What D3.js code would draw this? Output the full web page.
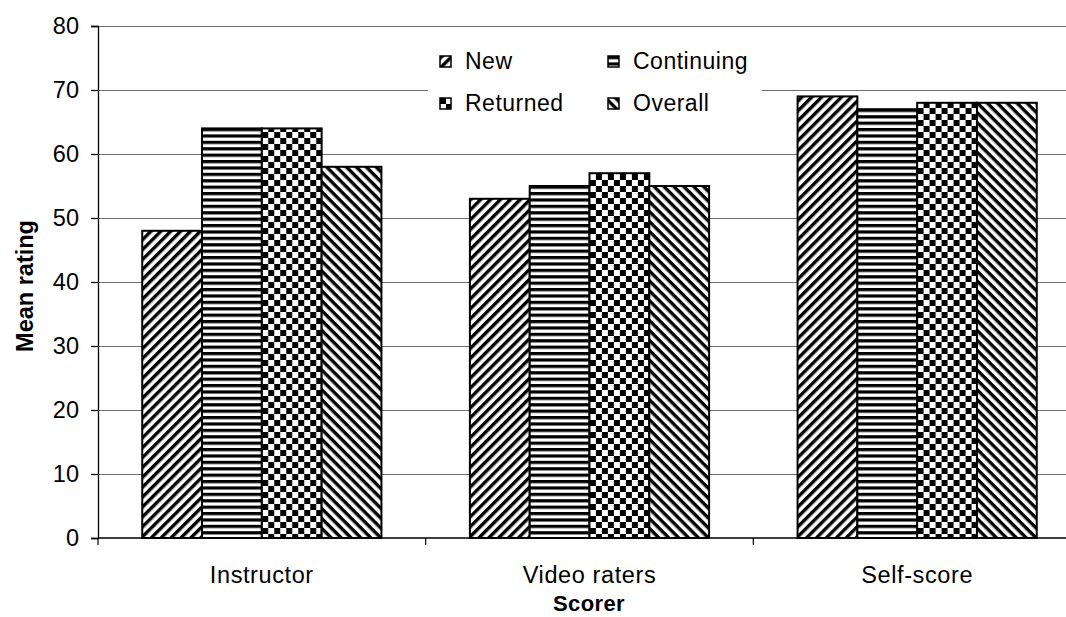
<!DOCTYPE html>
<html>
<head>
<meta charset="utf-8">
<script src="https://cdn.jsdelivr.net/npm/d3@7"></script>
<style>
  body { margin: 0; background: #fff; }
  svg { font-family: "Liberation Sans", Arial, sans-serif; display: block; }
  .tick text { font-size: 23.5px; fill: #000; }
</style>
</head>
<body>
<div id="chart"></div>
<script>
// data
const categories = ['Instructor', 'Video raters', 'Self-score'];
const seriesNames = ['New', 'Continuing', 'Returned', 'Overall'];
const newVals = [48, 53, 69];
const continuingVals = [64, 55, 67];
const returnedVals = [64, 57, 68];
const overallVals = [58, 55, 68];
const yTicks = [0, 10, 20, 30, 40, 50, 60, 70, 80];

const seriesVals = [newVals, continuingVals, returnedVals, overallVals];
const patternIds = ['pNew', 'pCont', 'pRet', 'pOver'];

const width = 1066, height = 617;
const margin = {top: 26, left: 98, bottom: 79};
// plot runs off the right edge in the reference
const plotRight = 1081;

const svg = d3.select('#chart').append('svg')
    .attr('width', width)
    .attr('height', height);

// fill patterns
const defs = svg.append('defs');
function stripes(id, angle) {
    const p = defs.append('pattern')
        .attr('id', id)
        .attr('patternUnits', 'userSpaceOnUse')
        .attr('width', 7).attr('height', 7)
        .attr('patternTransform', `rotate(${angle})`);
    p.append('rect').attr('width', 7).attr('height', 7).attr('fill', '#fff');
    p.append('rect').attr('width', 7).attr('height', 3.4).attr('fill', '#000');
}
stripes('pNew', -45);
stripes('pOver', 45);

const ph = defs.append('pattern')
    .attr('id', 'pCont')
    .attr('patternUnits', 'userSpaceOnUse')
    .attr('width', 8).attr('height', 6.4);
ph.append('rect').attr('width', 8).attr('height', 6.4).attr('fill', '#fff');
ph.append('rect').attr('width', 8).attr('height', 3.2).attr('fill', '#000');

const pc = defs.append('pattern')
    .attr('id', 'pRet')
    .attr('patternUnits', 'userSpaceOnUse')
    .attr('width', 12).attr('height', 12);
pc.append('rect').attr('width', 12).attr('height', 12).attr('fill', '#fff');
pc.append('rect').attr('width', 6).attr('height', 6).attr('fill', '#000');
pc.append('rect').attr('x', 6).attr('y', 6).attr('width', 6).attr('height', 6).attr('fill', '#000');

// scales
const x0 = d3.scaleBand()
    .domain(categories)
    .range([margin.left, plotRight])
    .paddingInner(0.27)
    .paddingOuter(0.135);

const x1 = d3.scaleBand()
    .domain(seriesNames)
    .range([0, x0.bandwidth()]);

const y = d3.scaleLinear()
    .domain([0, 80])
    .range([height - margin.bottom, margin.top]);

// gridlines
svg.append('g')
    .selectAll('line')
    .data(yTicks.filter(d => d > 0))
    .join('line')
    .attr('x1', margin.left).attr('x2', plotRight)
    .attr('y1', d => y(d) + 0.5).attr('y2', d => y(d) + 0.5)
    .attr('stroke', '#6e6e6e')
    .attr('stroke-width', 1.2);

// bars
const groups = svg.append('g')
    .selectAll('g')
    .data(categories)
    .join('g')
    .attr('transform', d => `translate(${x0(d)},0)`);

groups.selectAll('rect')
    .data((c, ci) => seriesNames.map((s, si) => ({s, si, v: seriesVals[si][ci]})))
    .join('rect')
    .attr('x', d => x1(d.s))
    .attr('y', d => y(d.v))
    .attr('width', x1.bandwidth())
    .attr('height', d => y(0) - y(d.v))
    .attr('fill', d => `url(#${patternIds[d.si]})`)
    .attr('stroke', '#000')
    .attr('stroke-width', 2);

// axes
const yAxis = d3.axisLeft(y).tickValues(yTicks).tickSize(7).tickPadding(12);
svg.append('g')
    .attr('transform', `translate(${margin.left},0)`)
    .call(yAxis)
    .call(g => g.selectAll('line, path').attr('stroke', '#000').attr('stroke-width', 1.3));

// x axis: ticks between categories
const xAxisG = svg.append('g');
xAxisG.append('line')
    .attr('x1', margin.left).attr('x2', plotRight)
    .attr('y1', y(0)).attr('y2', y(0))
    .attr('stroke', '#000').attr('stroke-width', 1.3);
const boundaries = d3.range(categories.length + 1).map(i => margin.left + i * (plotRight - margin.left) / categories.length);
xAxisG.selectAll('.xt')
    .data(boundaries)
    .join('line')
    .attr('class', 'xt')
    .attr('x1', d => d).attr('x2', d => d)
    .attr('y1', y(0)).attr('y2', y(0) + 7)
    .attr('stroke', '#000').attr('stroke-width', 1.2);
xAxisG.selectAll('.xl')
    .data(categories)
    .join('text')
    .attr('class', 'xl')
    .attr('x', d => x0(d) + x0.bandwidth() / 2)
    .attr('y', y(0) + 45)
    .attr('text-anchor', 'middle')
    .attr('font-size', 23.5)
    .attr('letter-spacing', 0.6)
    .text(d => d);

// axis titles
svg.append('text')
    .attr('x', 589)
    .attr('y', 611)
    .attr('text-anchor', 'middle')
    .attr('font-size', 22)
    .attr('font-weight', 'bold')
    .attr('letter-spacing', 0.4)
    .text('Scorer');

svg.append('text')
    .attr('transform', `translate(33,${(y(0) + y(80)) / 2 + 4}) rotate(-90)`)
    .attr('text-anchor', 'middle')
    .attr('font-size', 23.5)
    .attr('font-weight', 'bold')
    .text('Mean rating');

// legend
const legend = svg.append('g');
legend.append('rect')
    .attr('x', 428).attr('y', 36)
    .attr('width', 334).attr('height', 90)
    .attr('fill', '#fff');

const legPos = [[440, 56], [608, 56], [440, 98], [608, 98]];
const items = legend.selectAll('g')
    .data(seriesNames)
    .join('g')
    .attr('transform', (d, i) => `translate(${legPos[i][0]},${legPos[i][1]})`);
items.append('rect')
    .attr('width', 11).attr('height', 11)
    .attr('fill', (d, i) => `url(#${patternIds[i]})`)
    .attr('stroke', '#000').attr('stroke-width', 1.5);
items.append('text')
    .attr('x', 25).attr('y', 12.5)
    .attr('font-size', 23)
    .attr('letter-spacing', 0.5)
    .text(d => d);
</script>
</body>
</html>
